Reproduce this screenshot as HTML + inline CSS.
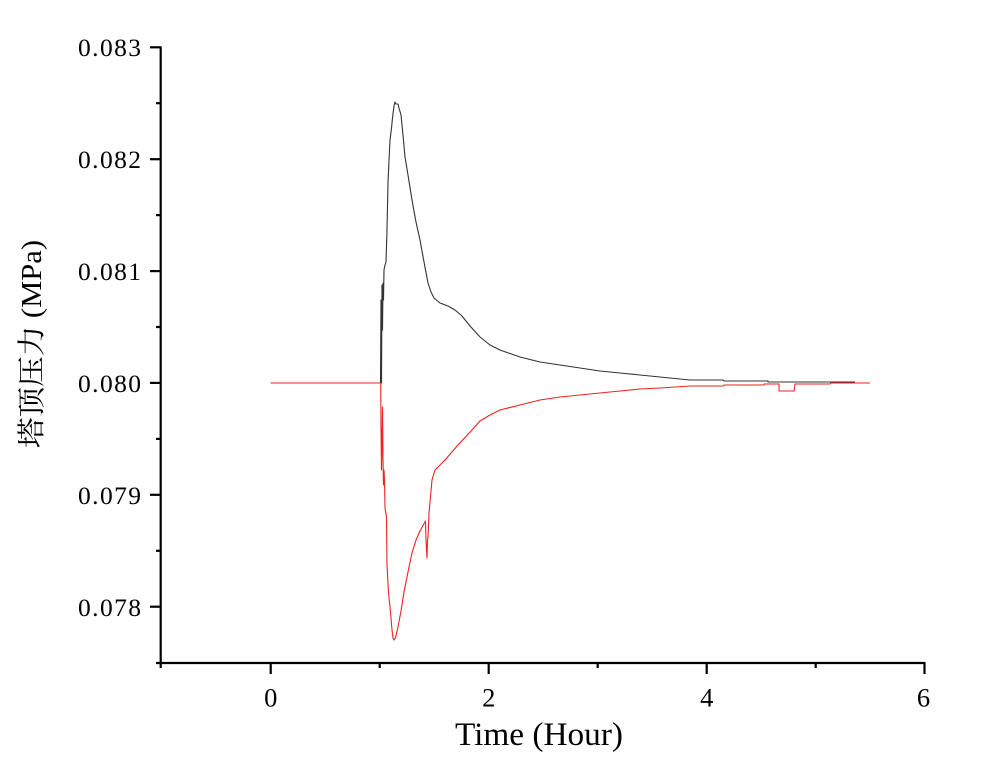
<!DOCTYPE html>
<html>
<head>
<meta charset="utf-8">
<style>
html,body{margin:0;padding:0;background:#fff;}
svg{display:block;}
text{fill:#000;}
</style>
</head>
<body>
<svg width="999" height="761" viewBox="0 0 999 761" xmlns="http://www.w3.org/2000/svg">
<rect width="999" height="761" fill="#fff"/>

<!-- Axes -->
<g stroke="#000" stroke-width="2.2" fill="none">
  <line x1="160.7" y1="46.5" x2="160.7" y2="668"/>
  <line x1="156" y1="663" x2="925.5" y2="663"/>
  <!-- y major ticks -->
  <line x1="150" y1="47.3" x2="161" y2="47.3"/>
  <line x1="150" y1="159.2" x2="161" y2="159.2"/>
  <line x1="150" y1="271.1" x2="161" y2="271.1"/>
  <line x1="150" y1="382.9" x2="161" y2="382.9"/>
  <line x1="150" y1="494.8" x2="161" y2="494.8"/>
  <line x1="150" y1="606.7" x2="161" y2="606.7"/>
  <!-- y minor ticks -->
  <line x1="156" y1="103.2" x2="161" y2="103.2"/>
  <line x1="156" y1="215.1" x2="161" y2="215.1"/>
  <line x1="156" y1="327.0" x2="161" y2="327.0"/>
  <line x1="156" y1="438.9" x2="161" y2="438.9"/>
  <line x1="156" y1="550.8" x2="161" y2="550.8"/>
  <!-- x major ticks -->
  <line x1="270.7" y1="663" x2="270.7" y2="674"/>
  <line x1="488.7" y1="663" x2="488.7" y2="674"/>
  <line x1="706.7" y1="663" x2="706.7" y2="674"/>
  <line x1="924.5" y1="663" x2="924.5" y2="674"/>
  <!-- x minor ticks -->
  <line x1="379.7" y1="663" x2="379.7" y2="668"/>
  <line x1="597.7" y1="663" x2="597.7" y2="668"/>
  <line x1="815.7" y1="663" x2="815.7" y2="668"/>
</g>

<!-- Y tick labels -->
<g font-family="'Liberation Serif','Noto Serif CJK SC',serif" font-size="25.5" text-anchor="end">
  <text x="141" y="56" textLength="63" lengthAdjust="spacing">0.083</text>
  <text x="141" y="168" textLength="63" lengthAdjust="spacing">0.082</text>
  <text x="141" y="280" textLength="63" lengthAdjust="spacing">0.081</text>
  <text x="141" y="392" textLength="63" lengthAdjust="spacing">0.080</text>
  <text x="141" y="504" textLength="63" lengthAdjust="spacing">0.079</text>
  <text x="141" y="616" textLength="63" lengthAdjust="spacing">0.078</text>
</g>

<!-- X tick labels -->
<g font-family="'Liberation Serif',serif" font-size="26.5" text-anchor="middle">
  <text x="270.7" y="706.5">0</text>
  <text x="488.7" y="706.5">2</text>
  <text x="706.7" y="706.5">4</text>
  <text x="923.5" y="706.5">6</text>
</g>

<!-- Axis titles -->
<text x="455" y="745" font-family="'Liberation Serif',serif" font-size="33" textLength="168" lengthAdjust="spacingAndGlyphs">Time (Hour)</text>
<text transform="translate(41,344) rotate(-90)" text-anchor="middle" font-family="'Liberation Serif','Noto Serif CJK SC',serif" font-size="28" textLength="208" lengthAdjust="spacingAndGlyphs">塔顶压力 (MPa)</text>

<!-- Black series -->
<path fill="none" stroke="#333" stroke-width="1.1" stroke-linejoin="round"
d="M270.7,383 L380.5,383 L381,300 L381.5,383 L382,285 L382.5,330 L383,283 L383.5,300 L384,270 L385,265 L386,262 L387,230 L388,183 L389,160 L390,140 L391.5,128 L392.5,118 L394,106 L395,102 L396,104 L398,104 L399,108 L401,115 L403,135 L405,157 L408,175 L412,200 L416,222 L420,240 L424,262 L428,283 L431,292 L434,298 L440,303 L448,306 L455,310 L462,316 L470,326 L480,337 L490,345 L500,350 L520,357 L540,362 L560,365 L580,368 L600,371 L620,373 L640,375 L660,377 L690,380 L723,380 L724,381 L768,381 L768,382 L855,382"/>

<!-- Red series -->
<path fill="none" stroke="#ee2222" stroke-width="1.1" stroke-linejoin="round"
d="M270.7,383 L380.7,383 L381,427 L381.5,470 L382,440 L382.5,407 L383,460 L383.5,485 L384,470 L384.5,480 L385,508 L386.5,517 L387,565 L388.5,593 L390,607 L391,618 L392,630 L393,638 L394,640 L395.5,638 L398,627 L401,611 L404,592 L408,572 L412,553 L416,540 L420,531 L425.5,521 L426,540 L427,558 L427.5,540 L428,537 L429,513 L430.5,497 L432,480 L435,470 L445,460 L458,445 L472,430 L480,421 L490,415 L500,410 L520,405 L540,400 L560,397 L580,395 L600,393 L620,391 L640,389 L660,388 L690,386 L723,386 L724,385 L764,385 L764,384 L779,384 L779,391 L794,391 L795,384 L830,384 L831,383 L870,383"/>
</svg>
</body>
</html>
